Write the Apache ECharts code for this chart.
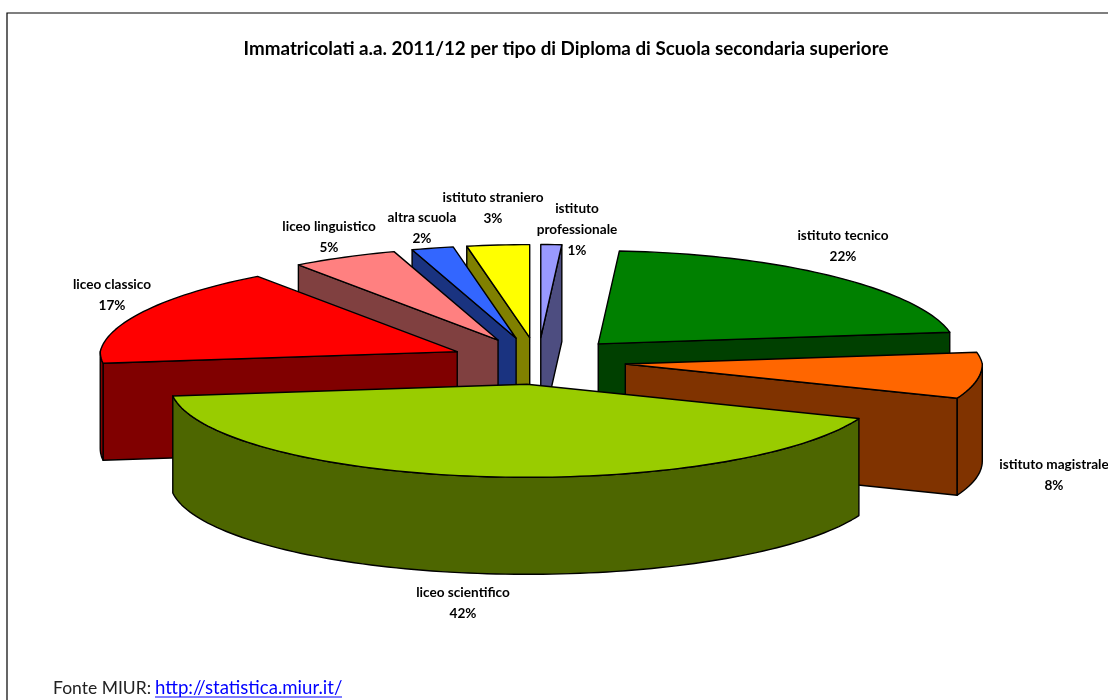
<!DOCTYPE html>
<html>
<head>
<meta charset="utf-8">
<style>html,body{margin:0;padding:0;background:#fff}#c{width:1108px;height:700px}</style>
<script src="https://cdn.jsdelivr.net/npm/echarts@6/dist/echarts.min.js"></script>
</head>
<body>
<div id="c"></div>
<script>
// ---- data: clockwise from twelve o'clock ----
const categories = ['istituto professionale','istituto tecnico','istituto magistrale','liceo scientifico','liceo classico','liceo linguistico','altra scuola','istituto straniero'];
const percents = [1,22,8,42,17,5,2,3];
const labelLines = [['istituto','professionale'],['istituto tecnico'],['istituto magistrale'],['liceo scientifico'],['liceo classico'],['liceo linguistico'],['altra scuola'],['istituto straniero']];
const topColors = ['#9999FF','#008000','#FF6600','#99CC00','#FF0000','#FF8080','#3366FF','#FFFF00'];
const sideColors = ['#4D4D80','#004000','#803300','#4D6600','#800000','#804040','#1A3380','#808000'];
// painter's order, farthest slice first
const drawOrder = [0,7,6,5,4,1,2,3];
// ---- layout ----
const PIE = {cx:538, cy:361, rx:357, ry:93, depth:97, explodeX:88, explodeY:23.5, backNarrow:0.06};
const labelCenters = [[577,209],[843,236],[1054,465],[463,593],[112,285],[329,227],[422,218],[493,198]];
const LINE_H = 21;
const FONT = 'Lato, Carlito, "Open Sans", sans-serif';

const total = percents.reduce((a,b)=>a+b,0);
const rad = d => d*Math.PI/180;
function sliceAngles(i){
  let s = 0;
  for(let k=0;k<i;k++) s += percents[k];
  return [s/total*360,(s+percents[i])/total*360];
}
function apexOf(i){
  const [a,b] = sliceAngles(i), m = rad((a+b)/2);
  return [PIE.cx+PIE.explodeX*Math.sin(m), PIE.cy-PIE.explodeY*Math.cos(m)];
}
function rimPoint(apex,deg){
  const t = rad(deg), c = Math.cos(t);
  const narrow = c>0 ? 1-PIE.backNarrow*c : 1;
  return [apex[0]+PIE.rx*Math.sin(t)*narrow, apex[1]-PIE.ry*c];
}
function arc(apex,a,b){
  const pts = [], n = Math.max(2,Math.ceil((b-a)/1.5));
  for(let k=0;k<=n;k++) pts.push(rimPoint(apex,a+(b-a)*k/n));
  return pts;
}
const down = p => [p[0],p[1]+PIE.depth];
const poly = (points,fill) => ({type:'polygon',silent:true,shape:{points},style:{fill,stroke:'#000',lineWidth:1.4,lineJoin:'round'}});

function renderSlice(params,api){
  const i = api.value(0);
  const [a,b] = sliceAngles(i), apex = apexOf(i), side = sideColors[i], kids = [];
  const wall = deg => { const p = rimPoint(apex,deg); return poly([p,apex,down(apex),down(p)],side); };
  if(Math.sin(rad(a))<0) kids.push(wall(a));
  if(Math.sin(rad(b))>0) kids.push(wall(b));
  const f0 = Math.max(a,90), f1 = Math.min(b,270);
  if(f1>f0){
    const top = arc(apex,f0,f1);
    kids.push(poly(top.concat(top.slice().reverse().map(down)),side));
  }
  kids.push(poly([apex].concat(arc(apex,a,b)),topColors[i]));
  return {type:'group',children:kids};
}
function renderLabel(params,api){
  const i = api.value(0), c = labelCenters[i];
  const lines = labelLines[i].concat([percents[i]+'%']);
  return {type:'group',children:lines.map((t,k)=>({type:'text',silent:true,
    style:{text:t,x:c[0],y:c[1]+k*LINE_H,textAlign:'center',textVerticalAlign:'middle',
      fill:'#000',fontSize:13.6,fontWeight:'bold',fontFamily:FONT}}))};
}

const chart = echarts.init(document.getElementById('c'),null,{renderer:'canvas'});
chart.setOption({
  animation:false,
  backgroundColor:'#fff',
  title:{text:'Immatricolati a.a. 2011/12 per tipo di Diploma di Scuola secondaria superiore',
    left:561,top:34,textAlign:'center',
    textStyle:{fontSize:18.8,fontWeight:'bold',color:'#000',fontFamily:FONT}},
  graphic:[
    {type:'rect',silent:true,z:-1,shape:{x:7,y:13,width:1200,height:800},style:{fill:'#fff',stroke:'#000',lineWidth:1.2}},
    {type:'text',silent:true,style:{text:'Fonte MIUR:',x:53,y:688,textVerticalAlign:'middle',fill:'#222',fontSize:17.5,fontFamily:FONT}},
    {type:'text',silent:true,style:{text:'http://statistica.miur.it/',x:155,y:688,textVerticalAlign:'middle',fill:'#0000FF',fontSize:18.6,fontFamily:FONT}},
    {type:'line',silent:true,shape:{x1:155,y1:697,x2:342,y2:697},style:{stroke:'#0000FF',lineWidth:1}}
  ],
  series:[
    {type:'custom',coordinateSystem:'none',renderItem:renderSlice,clip:false,z:2,
      data:drawOrder.map(i=>({name:categories[i],value:[i,percents[i]]}))},
    {type:'custom',coordinateSystem:'none',renderItem:renderLabel,clip:false,z:3,
      data:categories.map((n,i)=>({name:n,value:[i,percents[i]]}))}
  ]
});
</script>
</body>
</html>
